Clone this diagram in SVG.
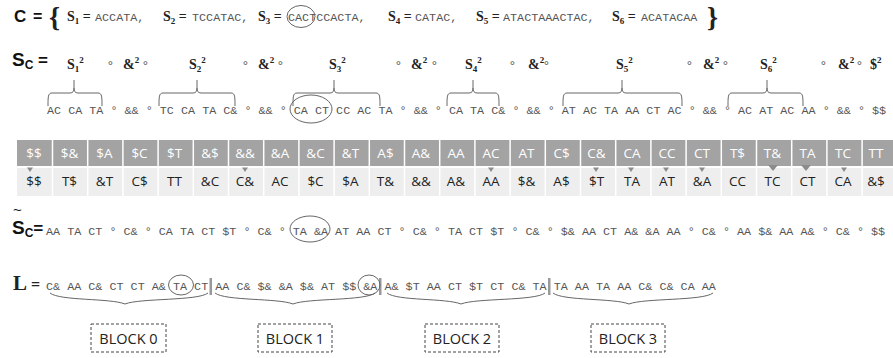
<svg xmlns="http://www.w3.org/2000/svg" width="893" height="358" viewBox="0 0 893 358">
<style>
.mono{font-family:"Liberation Mono","Courier New",monospace;font-size:11.75px;fill:#555}
.sb{font-family:"Liberation Serif","Times New Roman",serif;font-weight:bold;font-size:14px;fill:#222}
.sm{font-family:"Liberation Serif","Times New Roman",serif;font-size:9px}
.deg{font-family:"Liberation Serif","Times New Roman",serif;font-size:12px;fill:#444}
.big{font-family:"Liberation Sans",Arial,sans-serif;font-weight:bold;fill:#111}
.th{font-family:"Open Sans","Liberation Sans",sans-serif;font-size:13.5px;fill:#fff;text-anchor:middle}
.td{font-family:"Open Sans","Liberation Sans",sans-serif;font-size:13.5px;fill:#222;text-anchor:middle}
.blk{font-family:"Open Sans","Liberation Sans",sans-serif;font-size:14.5px;fill:#222;text-anchor:middle}
.ring{fill:none;stroke:#666;stroke-width:1}
.br{fill:none;stroke:#666;stroke-width:1}
.box{fill:#fff;stroke:#444;stroke-width:1;stroke-dasharray:3 2}
.mk{fill:#8c8c8c}
</style>

<g id="set-C">
  <text class="big" x="14" y="22" style="font-size:17px">C</text>
  <text class="big" x="33" y="22" style="font-size:16px">=</text>
  <text class="sb" x="49" y="26" style="font-size:28px">{</text>
  <text class="sb" x="67" y="21">S<tspan class="sm" dy="3">1</tspan><tspan dy="-3"> =</tspan></text>
  <text class="mono" x="95" y="21">ACCATA,</text>
  <text class="sb" x="163" y="21">S<tspan class="sm" dy="3">2</tspan><tspan dy="-3"> =</tspan></text>
  <text class="mono" x="192" y="21">TCCATAC,</text>
  <text class="sb" x="258" y="21">S<tspan class="sm" dy="3">3</tspan><tspan dy="-3"> =</tspan></text>
  <text class="mono" x="288" y="21">CACTCCACTA,</text>
  <ellipse class="ring" cx="301" cy="16.5" rx="14" ry="11"/>
  <text class="sb" x="388" y="21">S<tspan class="sm" dy="3">4</tspan><tspan dy="-3"> =</tspan></text>
  <text class="mono" x="415" y="21">CATAC,</text>
  <text class="sb" x="476" y="21">S<tspan class="sm" dy="3">5</tspan><tspan dy="-3"> =</tspan></text>
  <text class="mono" x="503" y="21">ATACTAAACTAC,</text>
  <text class="sb" x="612" y="21">S<tspan class="sm" dy="3">6</tspan><tspan dy="-3"> =</tspan></text>
  <text class="mono" x="641" y="21">ACATACAA</text>
  <text class="sb" x="707" y="26" style="font-size:28px">}</text>
</g>

<g id="Sc-def">
  <text class="big" x="12" y="66" style="font-size:19px">S<tspan style="font-size:12px" dy="3">C</tspan><tspan dy="-3" style="font-size:17px"> =</tspan></text>
  <text class="sb" x="67" y="69">S<tspan class="sm" dy="3">1</tspan><tspan class="sm" dy="-9">2</tspan></text>
  <text class="deg" x="108" y="69">°</text><text class="sb" x="123" y="69">&amp;<tspan class="sm" dy="-6">2</tspan></text><text class="deg" x="143" y="69">°</text>
  <text class="sb" x="189" y="69">S<tspan class="sm" dy="3">2</tspan><tspan class="sm" dy="-9">2</tspan></text>
  <text class="deg" x="243" y="69">°</text><text class="sb" x="258" y="69">&amp;<tspan class="sm" dy="-6">2</tspan></text><text class="deg" x="278" y="69">°</text>
  <text class="sb" x="329" y="69">S<tspan class="sm" dy="3">3</tspan><tspan class="sm" dy="-9">2</tspan></text>
  <text class="deg" x="396" y="69">°</text><text class="sb" x="411" y="69">&amp;<tspan class="sm" dy="-6">2</tspan></text><text class="deg" x="432" y="69">°</text>
  <text class="sb" x="465" y="69">S<tspan class="sm" dy="3">4</tspan><tspan class="sm" dy="-9">2</tspan></text>
  <text class="deg" x="510" y="69">°</text><text class="sb" x="528" y="69">&amp;<tspan class="sm" dy="-6">2</tspan></text><text class="deg" x="544" y="69">°</text>
  <text class="sb" x="616" y="69">S<tspan class="sm" dy="3">5</tspan><tspan class="sm" dy="-9">2</tspan></text>
  <text class="deg" x="687" y="69">°</text><text class="sb" x="703" y="69">&amp;<tspan class="sm" dy="-6">2</tspan></text><text class="deg" x="723" y="69">°</text>
  <text class="sb" x="760" y="69">S<tspan class="sm" dy="3">6</tspan><tspan class="sm" dy="-9">2</tspan></text>
  <text class="deg" x="821" y="69">°</text><text class="sb" x="838" y="69">&amp;<tspan class="sm" dy="-6">2</tspan></text><text class="deg" x="857" y="69">°</text>
  <text class="sb" x="870" y="69">$<tspan class="sm" dy="-6">2</tspan></text>
</g>

<g id="Sc-expanded">
  <text class="mono" x="47" y="113.5" xml:space="preserve">AC CA TA ° &amp;&amp; ° TC CA TA C&amp; ° &amp;&amp; ° CA CT CC AC TA ° &amp;&amp; ° CA TA C&amp; ° &amp;&amp; ° AT AC TA AA CT AC ° &amp;&amp; ° AC AT AC AA ° &amp;&amp; ° $$</text>
  <ellipse class="ring" cx="311" cy="109" rx="21" ry="14"/>
</g>

<g id="table">
  <rect x="17" y="140" width="876" height="26" fill="#a3a3a3"/>
  <rect x="17" y="168" width="876" height="28" fill="#eeeeee"/>
  <g stroke="#fff" stroke-width="1.5">
    <line x1="52.5" y1="140" x2="52.5" y2="196"/><line x1="87.7" y1="140" x2="87.7" y2="196"/><line x1="122.9" y1="140" x2="122.9" y2="196"/><line x1="158.1" y1="140" x2="158.1" y2="196"/><line x1="193.3" y1="140" x2="193.3" y2="196"/><line x1="228.5" y1="140" x2="228.5" y2="196"/><line x1="263.7" y1="140" x2="263.7" y2="196"/><line x1="298.9" y1="140" x2="298.9" y2="196"/><line x1="334.1" y1="140" x2="334.1" y2="196"/><line x1="369.3" y1="140" x2="369.3" y2="196"/><line x1="404.5" y1="140" x2="404.5" y2="196"/><line x1="439.7" y1="140" x2="439.7" y2="196"/><line x1="474.9" y1="140" x2="474.9" y2="196"/><line x1="510.1" y1="140" x2="510.1" y2="196"/><line x1="545.3" y1="140" x2="545.3" y2="196"/><line x1="580.5" y1="140" x2="580.5" y2="196"/><line x1="615.7" y1="140" x2="615.7" y2="196"/><line x1="650.9" y1="140" x2="650.9" y2="196"/><line x1="686.1" y1="140" x2="686.1" y2="196"/><line x1="721.3" y1="140" x2="721.3" y2="196"/><line x1="756.5" y1="140" x2="756.5" y2="196"/><line x1="791.7" y1="140" x2="791.7" y2="196"/><line x1="826.9" y1="140" x2="826.9" y2="196"/><line x1="862.1" y1="140" x2="862.1" y2="196"/>
  </g>
  <g>
    <text class="th" x="34" y="158">$$</text><text class="th" x="69.5" y="158">$&amp;</text><text class="th" x="104.5" y="158">$A</text><text class="th" x="139.5" y="158">$C</text><text class="th" x="174.5" y="158">$T</text><text class="th" x="210" y="158">&amp;$</text><text class="th" x="245" y="158">&amp;&amp;</text><text class="th" x="280" y="158">&amp;A</text><text class="th" x="315.5" y="158">&amp;C</text><text class="th" x="350.5" y="158">&amp;T</text><text class="th" x="385.5" y="158">A$</text><text class="th" x="421" y="158">A&amp;</text><text class="th" x="456" y="158">AA</text><text class="th" x="491" y="158">AC</text><text class="th" x="526.5" y="158">AT</text><text class="th" x="561.5" y="158">C$</text><text class="th" x="596.5" y="158">C&amp;</text><text class="th" x="632" y="158">CA</text><text class="th" x="667" y="158">CC</text><text class="th" x="702" y="158">CT</text><text class="th" x="737.5" y="158">T$</text><text class="th" x="772.5" y="158">T&amp;</text><text class="th" x="807.5" y="158">TA</text><text class="th" x="843" y="158">TC</text><text class="th" x="876" y="158">TT</text>
  </g>
  <g>
    <text class="td" x="34" y="186">$$</text><text class="td" x="69.5" y="186">T$</text><text class="td" x="104.5" y="186">&amp;T</text><text class="td" x="139.5" y="186">C$</text><text class="td" x="174.5" y="186">TT</text><text class="td" x="210" y="186">&amp;C</text><text class="td" x="245" y="186">C&amp;</text><text class="td" x="280" y="186">AC</text><text class="td" x="315.5" y="186">$C</text><text class="td" x="350.5" y="186">$A</text><text class="td" x="385.5" y="186">T&amp;</text><text class="td" x="421" y="186">&amp;&amp;</text><text class="td" x="456" y="186">A&amp;</text><text class="td" x="491" y="186">AA</text><text class="td" x="526.5" y="186">$&amp;</text><text class="td" x="561.5" y="186">A$</text><text class="td" x="596.5" y="186">$T</text><text class="td" x="632" y="186">TA</text><text class="td" x="667" y="186">AT</text><text class="td" x="702" y="186">&amp;A</text><text class="td" x="737.5" y="186">CC</text><text class="td" x="772.5" y="186">TC</text><text class="td" x="807.5" y="186">CT</text><text class="td" x="843" y="186">CA</text><text class="td" x="876" y="186">&amp;$</text>
  </g>
  <g class="mk">
    <polygon points="27,167.5 33,167.5 30,172"/>
    <polygon points="242,167.5 248,167.5 245,172"/>
    <polygon points="488,167.5 494,167.5 491,172"/>
    <polygon points="593,167.5 599,167.5 596,172"/>
    <polygon points="628,167.5 634,167.5 631,172"/>
    <polygon points="663,167.5 669,167.5 666,172"/>
    <polygon points="699,167.5 705,167.5 702,172"/>
    <polygon points="768,165 778,165 773,171"/>
    <polygon points="801,165 811,165 806,171"/>
    <polygon points="841,167.5 847,167.5 844,172"/>
  </g>
</g>

<g id="Sc-tilde">
  <text class="big" x="13" y="215" style="font-size:15px;font-weight:normal">~</text>
  <text class="big" x="12" y="234" style="font-size:19px">S<tspan style="font-size:12px" dy="3">C</tspan><tspan dy="-3" style="font-size:17px">=</tspan></text>
  <text class="mono" x="46" y="234.5" xml:space="preserve">AA TA CT ° C&amp; ° CA TA CT $T ° C&amp; ° TA &amp;A AT AA CT ° C&amp; ° TA CT $T ° C&amp; ° $&amp; AA CT A&amp; &amp;A AA ° C&amp; ° AA $&amp; AA A&amp; ° C&amp; ° $$</text>
  <ellipse class="ring" cx="310" cy="229" rx="20" ry="13"/>
</g>

<g id="L">
  <text class="sb" x="13" y="290" style="font-size:21px">L<tspan style="font-size:16px"> =</tspan></text>
  <text class="mono" x="46" y="290" xml:space="preserve">C&amp; AA C&amp; CT CT A&amp; TA CT AA C&amp; $&amp; &amp;A $&amp; AT $$ &amp;A A&amp; $T AA CT $T CT C&amp; TA TA AA TA AA C&amp; C&amp; CA AA</text>
  <g fill="#999">
    <rect x="209.5" y="278" width="2.5" height="17"/>
    <rect x="379" y="278" width="2.5" height="17"/>
    <rect x="548" y="278" width="2.5" height="17"/>
  </g>
  <ellipse class="ring" cx="181" cy="285" rx="12.5" ry="10"/>
  <ellipse class="ring" cx="369" cy="285" rx="11" ry="10"/>
</g>

<g id="block0"><rect class="box" x="91" y="324" width="75" height="28"/><text class="blk" x="128.5" y="344">BLOCK 0</text></g>
<g id="block1"><rect class="box" x="258" y="324" width="74" height="28"/><text class="blk" x="295" y="344">BLOCK 1</text></g>
<g id="block2"><rect class="box" x="425" y="324" width="74" height="28"/><text class="blk" x="462" y="344">BLOCK 2</text></g>
<g id="block3"><rect class="box" x="591" y="324" width="74" height="28"/><text class="blk" x="628" y="344">BLOCK 3</text></g>

<g id="connectors">
  <path class="br" d="M48,106 C48,97 48,93 52,93 L70,93 C73,93 74,91 74,88 L74,80 M74,88 C74,91 75,93 78,93 L98,93 C102,93 102,97 102,106"/>
  <path class="br" d="M159,106 C159,97 159,93 163,93 L193,93 C196,93 197,91 197,88 L197,80 M197,88 C197,91 198,93 201,93 L231,93 C235,93 235,97 235,106"/>
  <path class="br" d="M293,106 C293,97 293,93 297,93 L330,93 C333,93 334,91 334,88 L334,80 M334,88 C334,91 335,93 338,93 L376,93 C380,93 380,97 380,106"/>
  <path class="br" d="M447,106 C447,97 447,93 451,93 L469,93 C472,93 473,91 473,88 L473,80 M473,88 C473,91 474,93 477,93 L495,93 C499,93 499,97 499,106"/>
  <path class="br" d="M563,106 C563,97 563,93 567,93 L618,93 C621,93 622,91 622,88 L622,80 M622,88 C622,91 623,93 626,93 L678,93 C682,93 682,97 682,106"/>
  <path class="br" d="M728,106 C728,97 728,93 732,93 L763,93 C766,93 767,91 767,88 L767,80 M767,88 C767,91 768,93 771,93 L799,93 C803,93 803,97 803,106"/>
  <path class="br" d="M50,293 C60,301 110,298 125,304 C140,298 198,301 208,293"/>
  <path class="br" d="M215,293 C225,301 278,298 293,304 C308,298 365,301 375,293"/>
  <path class="br" d="M387,293 C397,301 446,298 461,304 C476,298 535,301 545,293"/>
  <path class="br" d="M553,293 C563,301 614,298 629,304 C644,298 703,301 713,293"/>
</g>
</svg>
